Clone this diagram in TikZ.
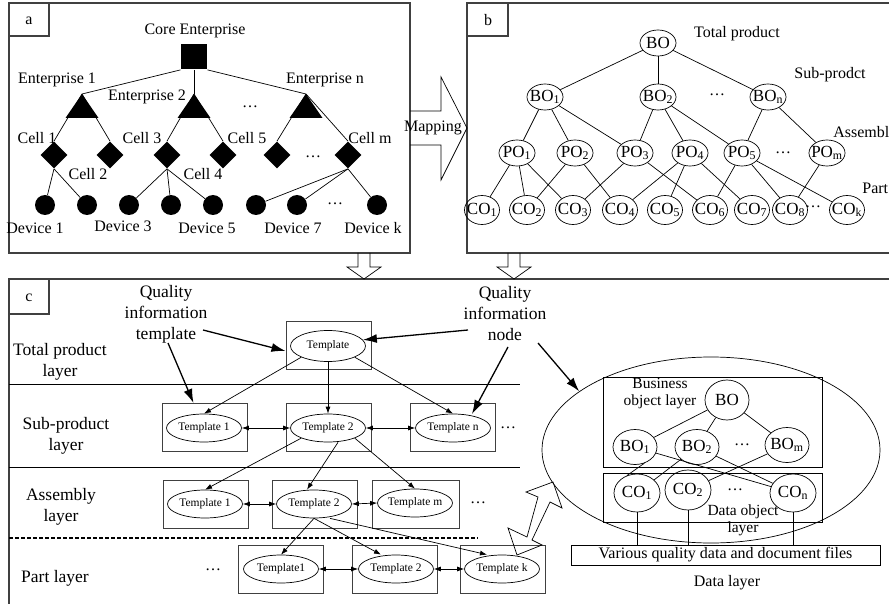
\documentclass[tikz,border=0pt]{standalone}
\usepackage{fontspec}
\setmainfont{Liberation Serif}
\usetikzlibrary{shapes.geometric,arrows.meta,calc}
\begin{document}
\begin{tikzpicture}[x=1pt,y=-1pt,line width=0.7pt,
 every node/.style={inner sep=0pt},
 fa/.style={font=\fontsize{16}{18}\selectfont},
 fc/.style={font=\fontsize{17.5}{21}\selectfont, align=center},
 fr/.style={font=\fontsize{15.5}{17}\selectfont, align=center},
 panel/.style={draw=black!75, line width=1.1pt},
 sqn/.style={fill, minimum width=26pt, minimum height=25pt},
 dia/.style={diamond, fill, minimum width=27pt, minimum height=27pt},
 dev/.style={circle, fill, minimum size=20pt},
 bn/.style={ellipse, draw, inner sep=-3pt, minimum width=36pt, minimum height=26pt, font=\fontsize{17}{19}\selectfont},
 cn/.style={bn, minimum width=35pt, minimum height=29pt},
 rn/.style={ellipse, draw, inner sep=-3pt, minimum width=44pt, minimum height=37pt, font=\fontsize{17}{19}\selectfont},
 tbox/.style={draw=black!75, line width=1pt, minimum width=85pt, minimum height=48pt},
 tpl/.style={ellipse, draw, inner sep=-2pt, minimum width=75pt, minimum height=28pt, font=\fontsize{11.5}{13}\selectfont},
 arr/.style={-{Latex[length=7pt,width=5pt]}},
 darr/.style={{Latex[length=7pt,width=5pt]}-{Latex[length=7pt,width=5pt]}},
 big/.style={line width=1.3pt, -{Latex[length=14pt,width=9pt]}}
]
\useasboundingbox (0,0) rectangle (889,604);
\clip (0,0) rectangle (889,604);

% ---------------- panels ----------------
\draw[panel] (9,3) rectangle (410,253);
\draw[panel] (9,3) rectangle (49,36);
\node[fa] at (29,21) {a};
\draw[panel] (467,3) rectangle (900,253);
\draw[panel] (467,3) rectangle (508,36);
\node[fa] at (488,20) {b};
\draw[panel] (9,279) rectangle (900,620);
\draw[panel] (9,279) rectangle (49,314);
\node[fa] at (29,298) {c};

% mapping arrow and down arrows
\draw (410,111) -- (441,111) -- (441,77) -- (467,128) -- (441,180) -- (441,145) -- (410,145);
\node[fa] (map) at (433,128) {Mapping};
\draw (358,253) -- (358,267) -- (347,267) -- (364,279) -- (381,267) -- (370,267) -- (370,253);
\draw (508,253) -- (508,267) -- (497,267) -- (514,279) -- (531,267) -- (520,267) -- (520,253);

% ---------------- panel a ----------------
\node[fa] at (195,31) {Core Enterprise};
\node[sqn] (sq) at (194,57) {};
\foreach \n/\x in {t1/82,t2/194,tn/306}{
  \coordinate (\n) at (\x,94);
  \fill (\n) -- ++(-16.5,24) -- ++(33,0) -- cycle;
}
\node[fa] at (57,80) {Enterprise 1};
\node[fa] at (147,97) {Enterprise 2};
\node[fa] at (325,80) {Enterprise n};
\node[fa] at (250,107) {…};
\draw (sq.south west) -- (t1);
\draw (sq.south) -- (t2);
\draw (sq.south east) -- (tn);
\foreach \n/\x in {c1/54,c2/110,c3/167,c4/223,c5/277,cm/348}
  \node[dia] (\n) at (\x,155) {};
\foreach \a/\b in {t1/c1,t1/c2,t2/c3,t2/c4,tn/c5,tn/cm}
  \draw (\a) -- (\b.north);
\node[fa] at (37,138) {Cell 1};
\node[fa] at (88,174) {Cell 2};
\node[fa] at (142,138) {Cell 3};
\node[fa] at (203,174) {Cell 4};
\node[fa] at (247,138) {Cell 5};
\node[fa] at (370,138) {Cell m};
\node[fa] at (313,157) {…};
\foreach \n/\x in {d1/45,d2/87,d3/129,d4/171,d5/213,d6/256,d7/297,d8/377}
  \node[dev] (\n) at (\x,205) {};
\node[fa] at (335,204) {…};
\foreach \a/\b in {c1/d1,c1/d2,c3/d3,c3/d4,c3/d5,cm/d6,cm/d7,cm/d8}
  \draw (\a.south) -- (\b);
\node[fa] at (35,228) {Device 1};
\node[fa] at (123,226) {Device 3};
\node[fa] at (207,228) {Device 5};
\node[fa] at (293,228) {Device 7};
\node[fa] at (373,228) {Device k};

% ---------------- panel b ----------------
\node[bn] (bo) at (658,43) {BO};
\node[fa] at (737,34) {Total product};
\node[bn] (bo1) at (545,97) {BO\textsubscript{1}};
\node[bn] (bo2) at (658,97) {BO\textsubscript{2}};
\node[bn] (bon) at (768,97) {BO\textsubscript{n}};
\node[fa] at (717,95) {…};
\node[fa] at (830,75) {Sub-prodct};
\node[fa,anchor=west] at (833,132) {Assembl};
\node[fa,anchor=west] at (862,188) {Part};
\foreach \n/\x/\s in {po1/517/1,po2/575/2,po3/635/3,po4/690/4,po5/742/5,pom/827/m}
  \node[bn] (\n) at (\x,153) {PO\textsubscript{\s}};
\node[fa] at (783,153) {…};
\foreach \n/\x/\s in {co1/482/1,co2/527/2,co3/573/3,co4/620/4,co5/665/5,co6/710/6,co7/752/7,co8/790/8,cok/847/k}
  \node[cn] (\n) at (\x,210) {CO\textsubscript{\s}};
\node[fa] at (813,207) {…};
\foreach \a/\b in {bo/bo1,bo/bo2,bo/bon,bo1/po1,bo1/po2,bo1/po3,bo2/po3,bo2/po4,bo2/po5,bon/po5,bon/pom,po1/co1,po1/co2,po1/co3,po2/co2,po2/co4,po3/co3,po3/co6,po4/co4,po4/co5,po4/co7,po5/co6,po5/co8,po5/cok,pom/co8}
  \draw (\a) -- (\b);

% ---------------- panel c : layers ----------------
\node[fc] at (166,314) {Quality\\information\\template};
\node[fc] at (505,314) {Quality\\information\\node};
\node[fc] at (60,362) {Total product\\layer};
\node[fc] at (66,436) {Sub-product\\layer};
\node[fc] at (61,507) {Assembly\\layer};
\node[fc] at (55,578) {Part layer};
\draw (9,384) -- (520,384);
\draw (9,467) -- (520,467);
\draw[dash pattern=on 4pt off 2pt, line width=1.1pt] (9,538) -- (478,538);

% template boxes
\node[tbox] (tr) at (328.5,345) {};
\node[tpl, minimum height=31pt] (te) at (328,346) {Template};
\node[tbox] (s1r) at (204.5,427.5) {};
\node[tpl] (s1e) at (204,428) {Template 1};
\node[tbox] (s2r) at (328.5,427.5) {};
\node[tpl] (s2e) at (328,428) {Template 2};
\node[tbox] (snr) at (453,427.5) {};
\node[tpl] (sne) at (453,428) {Template n};
\node[fa] at (508,428) {…};
\node[tbox] (a1r) at (205.5,504) {};
\node[tpl] (a1e) at (205,504) {Template 1};
\node[tbox] (a2r) at (314.5,504) {};
\node[tpl] (a2e) at (314,504) {Template 2};
\node[tbox, minimum width=87pt] (amr) at (415.5,504) {};
\node[tpl] (ame) at (415,503) {Template m};
\node[fa] at (478,503) {…};
\node[tbox] (p1r) at (281,569) {};
\node[tpl] (p1e) at (281,569) {Template1};
\node[tbox] (p2r) at (395,569) {};
\node[tpl] (p2e) at (396,569) {Template 2};
\node[tbox] (pkr) at (502.5,569) {};
\node[tpl] (pke) at (502,569) {Template k};
\node[fa] at (213,570) {…};

% template connectors
\draw[arr] (te.south west) -- (s1e.north);
\draw[arr] (te.south) -- (s2e.north);
\draw[arr] (te.south east) -- (sne.north);
\draw[darr] (s1e.east) -- (s2e.west);
\draw[darr] (s2e.east) -- (sne.west);
\draw[arr] (s2e.south west) -- (a1e.north);
\draw[arr] ([xshift=10pt]s2e.south) -- ([xshift=-7pt]a2e.north);
\draw[arr] (s2e.south east) -- (ame.north);
\draw[darr] (a1e.east) -- (a2e.west);
\draw[darr] (a2e.east) -- (ame.west);
\draw[arr] (a2e.south) -- (p1e.north);
\draw[arr] (a2e.south) -- ([xshift=-15pt]p2e.north);
\draw[arr] ([xshift=16pt]a2e.south) -- ([xshift=-15pt]pke.north);
\draw[darr] (p1e.east) -- (p2e.west);
\draw[darr] (p2e.east) -- (pke.west);

% annotation arrows
\coordinate (qt1) at (168,343);
\coordinate (qt2) at (203,330);
\coordinate (qn1) at (468,330);
\coordinate (qn2) at (508,347);
\coordinate (qn3) at (538,343);
\draw[big] (qt1) -- ([xshift=-11pt]s1r.north);
\draw[big] (qt2) -- ([yshift=-6pt]tr.west);
\draw[big] (qn1) -- (te.10);
\draw[big] (qn2) -- ([xshift=19pt,yshift=14pt]sne.center);

% ---------------- panel c : right part ----------------
\node[draw, ellipse, minimum width=338pt, minimum height=186pt] (bigell) at (711,450) {};
\draw[big] (qn3) -- (bigell.156);
\draw (517,555) -- (508,528) -- (527,537) -- (538,497) -- (526,492) -- (553,482) -- (562,508) -- (550,502) -- (532,540) -- (542,545) -- cycle;

\draw (603,377) rectangle (822,467);
\draw (603,473) rectangle (822,522);
\node[fr] at (660,394) {Business\\object layer};
\node[rn, minimum height=40pt] (rbo) at (727,400) {BO};
\node[rn, minimum height=35pt] (rbo1) at (635,447) {BO\textsubscript{1}};
\node[rn, minimum height=35pt] (rbo2) at (697,447) {BO\textsubscript{2}};
\node[rn, minimum height=35pt] (rbom) at (787,445) {BO\textsubscript{m}};
\node[fa] at (742,445) {…};
\node[rn, minimum width=46pt, minimum height=38pt] (rco1) at (637,493) {CO\textsubscript{1}};
\node[rn, minimum width=46pt, minimum height=40pt] (rco2) at (688,490) {CO\textsubscript{2}};
\node[rn, minimum width=46pt, minimum height=38pt] (rcon) at (793,493) {CO\textsubscript{n}};
\node[fa] at (735,490) {…};
\node[fr] at (743,520) {Data object\\layer};
\draw (rbo) -- (rbo1);
\draw (rbo) -- (rbo2);
\draw (rbo) -- (rbom);
\draw (rbo1.-60) -- (rco1.120);
\draw (rbo1) -- (rcon);
\draw (rbo2) -- (rco1);
\draw (rbo2) -- (rcon);
\draw (rbom) -- (rco2);
\node[draw, minimum width=309pt, minimum height=20pt, fa] (files) at (725.5,555) {Various quality data and document files};
\draw (rco1.south) -- (rco1.south |- files.north);
\draw (rco2.south) -- (rco2.south |- files.north);
\draw (rcon.south) -- (rcon.south |- files.north);
\node[fa] at (727,583) {Data layer};
\end{tikzpicture}
\end{document}
